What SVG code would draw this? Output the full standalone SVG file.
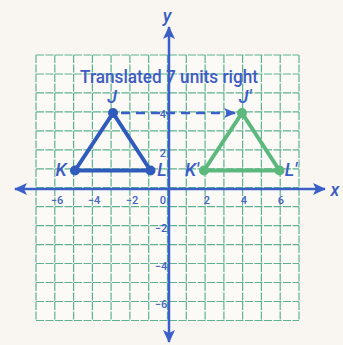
<svg xmlns="http://www.w3.org/2000/svg" width="343" height="345" viewBox="0 0 343 345">
<defs>
<style>
.grid line{stroke:#5fb191;stroke-width:1.2;stroke-dasharray:8 1.5}
.axis{stroke:#3a5fc8;stroke-width:2.5;fill:none}
.tick{font-family:Roboto,"Liberation Sans",Arial,sans-serif;font-weight:500;font-size:11px;fill:#4163c4;text-anchor:middle}
.lbl{font-family:Roboto,"Liberation Sans",Arial,sans-serif;font-weight:500;font-style:italic;font-size:18px;fill:#3a5cc4;text-anchor:middle}
.blue{stroke:#2f5bbd;stroke-width:4;fill:none;stroke-linejoin:round}
.green{stroke:#5cb87c;stroke-width:4;fill:none;stroke-linejoin:round}
.bdot{fill:#2f5bbd}
.gdot{fill:#5cb87c}
</style>
<marker id="ah" markerWidth="14" markerHeight="12" refX="12" refY="6" orient="auto-start-reverse" markerUnits="userSpaceOnUse">
<path d="M0,0 L13,6 L0,12 L3,6 z" fill="#3a5fc8"/>
</marker>
<marker id="dh" markerWidth="12" markerHeight="10" refX="11" refY="5" orient="auto" markerUnits="userSpaceOnUse">
<path d="M0,0 L12,5 L0,10 L3,5 z" fill="#3a5fc8"/>
</marker>
</defs>
<rect width="343" height="345" fill="#f9f6f1"/>
<rect x="36" y="55" width="263" height="265.5" fill="#fbfaf6"/>
<g class="grid" id="grid">
<line x1="36" y1="55" x2="36" y2="320.5"/><line x1="54.8" y1="55" x2="54.8" y2="320.5"/><line x1="73.6" y1="55" x2="73.6" y2="320.5"/><line x1="92.4" y1="55" x2="92.4" y2="320.5"/><line x1="111.1" y1="55" x2="111.1" y2="320.5"/><line x1="129.9" y1="55" x2="129.9" y2="320.5"/><line x1="148.7" y1="55" x2="148.7" y2="320.5"/><line x1="167.5" y1="55" x2="167.5" y2="320.5"/><line x1="186.3" y1="55" x2="186.3" y2="320.5"/><line x1="205.1" y1="55" x2="205.1" y2="320.5"/><line x1="223.9" y1="55" x2="223.9" y2="320.5"/><line x1="242.6" y1="55" x2="242.6" y2="320.5"/><line x1="261.4" y1="55" x2="261.4" y2="320.5"/><line x1="280.2" y1="55" x2="280.2" y2="320.5"/><line x1="299" y1="55" x2="299" y2="320.5"/>
<line x1="36" y1="55" x2="299" y2="55"/><line x1="36" y1="74" x2="299" y2="74"/><line x1="36" y1="92.9" x2="299" y2="92.9"/><line x1="36" y1="111.9" x2="299" y2="111.9"/><line x1="36" y1="130.8" x2="299" y2="130.8"/><line x1="36" y1="149.8" x2="299" y2="149.8"/><line x1="36" y1="168.8" x2="299" y2="168.8"/><line x1="36" y1="187.7" x2="299" y2="187.7"/><line x1="36" y1="206.7" x2="299" y2="206.7"/><line x1="36" y1="225.6" x2="299" y2="225.6"/><line x1="36" y1="244.6" x2="299" y2="244.6"/><line x1="36" y1="263.5" x2="299" y2="263.5"/><line x1="36" y1="282.5" x2="299" y2="282.5"/><line x1="36" y1="301.5" x2="299" y2="301.5"/><line x1="36" y1="320.5" x2="299" y2="320.5"/>
</g>
<g id="axes">
<line class="axis" x1="15" y1="189" x2="325" y2="189" marker-start="url(#ah)" marker-end="url(#ah)"/>
<line class="axis" x1="169" y1="27" x2="169" y2="342" marker-start="url(#ah)" marker-end="url(#ah)"/>
<text class="lbl" x="335" y="196" font-size="20">x</text>
<text class="lbl" x="167" y="22" font-size="20">y</text>
<g class="tick">
<text x="57" y="204">−6</text><text x="94" y="204">−4</text><text x="132" y="204">−2</text><text x="163" y="204">0</text><text x="207" y="204">2</text><text x="244" y="204">4</text><text x="281" y="204">6</text>
<text x="163" y="157">2</text><text x="163" y="118">4</text><text x="161" y="232">−2</text><text x="161" y="270">−4</text><text x="161" y="308">−6</text>
</g>
</g>
<g id="title">
<text x="80" y="83" font-family="Roboto,'Liberation Sans',Arial,sans-serif" font-weight="500" font-size="18" fill="#3e5bc2" textLength="178" lengthAdjust="spacingAndGlyphs">Translated 7 units right</text>
</g>
<g id="connectors">
<line x1="121" y1="113" x2="235" y2="113" stroke="#3a5fc8" stroke-width="2.5" stroke-dasharray="9 6" marker-end="url(#dh)"/>
</g>
<g id="triangle-JKL">
<polygon class="blue" points="113,113 75,170.5 150.5,170.5"/>
<circle class="bdot" cx="113" cy="113" r="5"/><circle class="bdot" cx="75" cy="170.5" r="5"/><circle class="bdot" cx="150.5" cy="170.5" r="5"/>
</g>
<g id="triangle-JKL-prime">
<polygon class="green" points="242,113 204,170.5 279.5,170.5"/>
<circle class="gdot" cx="242" cy="113" r="5"/><circle class="gdot" cx="204" cy="170.5" r="5"/><circle class="gdot" cx="279.5" cy="170.5" r="5"/>
</g>
<g id="labels">
<text class="lbl" x="112" y="103" font-size="16">J</text>
<text class="lbl" x="245" y="103" font-size="16">J′</text>
<text class="lbl" x="61" y="176">K</text>
<text class="lbl" x="162" y="176">L</text>
<text class="lbl" x="192" y="176">K′</text>
<text class="lbl" x="291" y="176">L′</text>
</g>
</svg>
